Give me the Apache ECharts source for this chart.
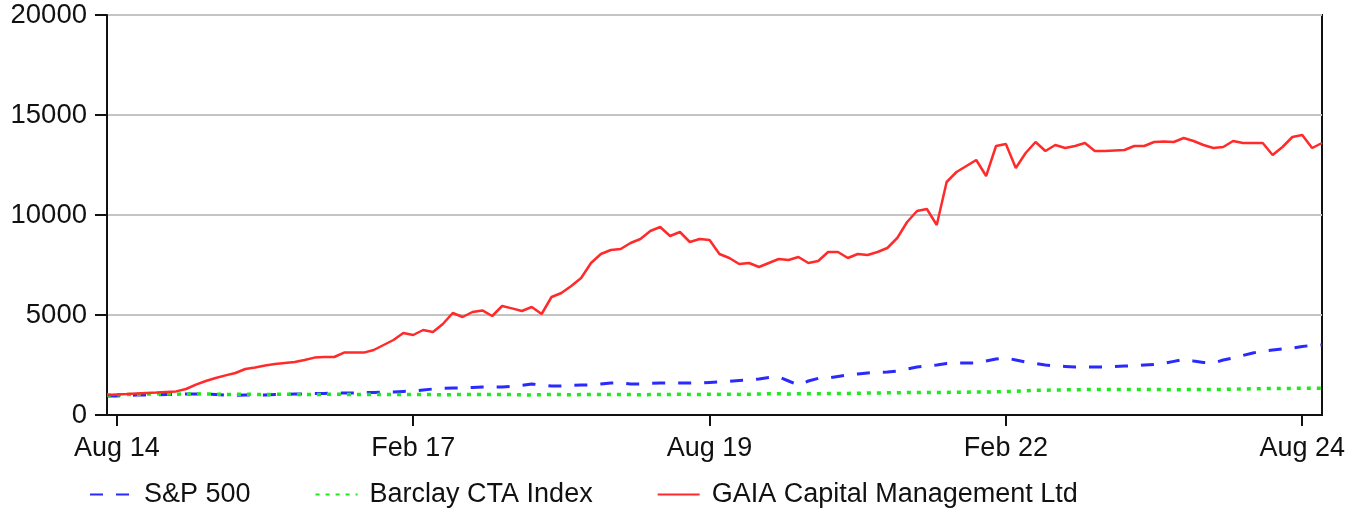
<!DOCTYPE html>
<html>
<head>
<meta charset="utf-8">
<script src="https://cdn.jsdelivr.net/npm/echarts@6/dist/echarts.min.js"></script>
<style>
  html, body { margin: 0; padding: 0; background: #fff; }
  #chart { width: 1357px; height: 510px; }
</style>
</head>
<body>
<div id="chart"></div>
<script>
// monthly points, Jul 14 .. Oct 24
const monthNames = ['Jan', 'Feb', 'Mar', 'Apr', 'May', 'Jun', 'Jul', 'Aug', 'Sep', 'Oct', 'Nov', 'Dec'];
const months = [];
for (let y = 2014, m = 6; months.length < 124; m++) {
  if (m === 12) { m = 0; y++; }
  months.push(monthNames[m] + ' ' + String(y).slice(2));
}
const shownLabels = ['Aug 14', 'Feb 17', 'Aug 19', 'Feb 22', 'Aug 24'];

const seriesNames = ['S&P 500', 'Barclay CTA Index', 'GAIA Capital Management Ltd'];

const sp500 = [
  950, 950, 980, 1000, 1000, 1000, 1030, 1030, 1050, 1050,
  1050, 1030, 1000, 980, 1000, 1000, 1000, 1030, 1030, 1050,
  1050, 1080, 1080, 1100, 1100, 1100, 1130, 1130, 1150, 1150,
  1180, 1200, 1250, 1300, 1330, 1350, 1350, 1380, 1400, 1400,
  1400, 1430, 1480, 1550, 1500, 1450, 1450, 1480, 1500, 1500,
  1550, 1600, 1600, 1550, 1550, 1580, 1600, 1600, 1600, 1600,
  1600, 1630, 1650, 1680, 1730, 1750, 1800, 1880, 1900, 1700,
  1500, 1700, 1830, 1850, 1930, 2000, 2050, 2100, 2130, 2150,
  2200, 2300, 2400, 2450, 2500, 2580, 2600, 2600, 2600, 2700,
  2800, 2850, 2750, 2650, 2580, 2500, 2450, 2430, 2400, 2400,
  2400, 2400, 2430, 2450, 2450, 2500, 2530, 2580, 2680, 2780,
  2700, 2630, 2600, 2750, 2850, 2980, 3100, 3200, 3250, 3300,
  3350, 3430, 3480, 3500
];

const barclay = [
  1000, 1010, 1020, 1040, 1050, 1060, 1050, 1040, 1050, 1060,
  1050, 1040, 1030, 1030, 1040, 1030, 1020, 1030, 1040, 1030,
  1030, 1020, 1030, 1040, 1030, 1020, 1020, 1030, 1030, 1020,
  1020, 1030, 1030, 1020, 1010, 1020, 1030, 1030, 1020, 1020,
  1030, 1020, 1010, 1000, 1020, 1030, 1020, 1010, 1020, 1030,
  1020, 1020, 1030, 1020, 1010, 1020, 1020, 1030, 1040, 1030,
  1030, 1040, 1030, 1040, 1030, 1040, 1050, 1060, 1060, 1050,
  1060, 1070, 1060, 1070, 1080, 1080, 1090, 1100, 1100, 1110,
  1110, 1120, 1120, 1130, 1130, 1130, 1140, 1140, 1150, 1150,
  1160, 1170, 1190, 1210, 1230, 1240, 1250, 1260, 1260, 1270,
  1270, 1280, 1280, 1280, 1270, 1280, 1270, 1270, 1260, 1270,
  1270, 1270, 1280, 1280, 1290, 1300, 1310, 1320, 1320, 1330,
  1330, 1340, 1340, 1340
];

const gaia = [
  1000, 1030, 1050, 1080, 1100, 1120, 1150, 1180, 1300, 1520,
  1700, 1850, 1980, 2100, 2300, 2380, 2480, 2550, 2600, 2650,
  2750, 2870, 2900, 2900, 3120, 3120, 3120, 3250, 3500, 3750,
  4100, 4000, 4250, 4150, 4550, 5100, 4900, 5150, 5230, 4950,
  5450, 5330, 5200, 5400, 5050, 5900, 6100, 6450, 6850, 7600,
  8050, 8250, 8300, 8600, 8800, 9200, 9400, 8950, 9150, 8650,
  8800, 8750, 8050, 7850, 7550, 7600, 7400, 7600, 7800, 7750,
  7900, 7600, 7700, 8150, 8150, 7850, 8050, 8000, 8150, 8350,
  8850, 9650, 10200, 10300, 9500, 11650, 12150, 12450, 12750, 11950,
  13450, 13550, 12350, 13100, 13650, 13200, 13500, 13350, 13450, 13600,
  13200, 13200, 13230, 13250, 13450, 13450, 13650, 13680, 13650, 13850,
  13700, 13500, 13350, 13400, 13700, 13600, 13600, 13600, 13000, 13400,
  13900, 14000, 13350, 13600
];

const font = '"Liberation Sans", Arial, sans-serif';
const chart = echarts.init(document.getElementById('chart'));

const isShown = (i, v) => shownLabels.indexOf(v) >= 0;

chart.setOption({
  animation: false,
  backgroundColor: '#fff',
  grid: {
    left: 107, right: 35, top: 15, bottom: 95,
    show: true, borderColor: '#111', borderWidth: 2
  },
  legend: {
    left: 84, top: 476,
    itemWidth: 42, itemHeight: 14, itemGap: 64,
    itemStyle: { opacity: 0 },
    textStyle: { fontFamily: font, fontSize: 27, color: '#111', padding: [0, 0, 0, 7] },
    data: seriesNames
  },
  xAxis: {
    type: 'category',
    data: months,
    boundaryGap: false,
    axisLine: { lineStyle: { color: '#111', width: 2 } },
    axisTick: { interval: isShown, length: 11, lineStyle: { color: '#111', width: 2 } },
    axisLabel: { interval: isShown, margin: 20, fontFamily: font, fontSize: 27, color: '#111' },
    splitLine: { show: false }
  },
  yAxis: {
    type: 'value',
    min: 0, max: 20000, interval: 5000,
    axisLine: { show: true, lineStyle: { color: '#111', width: 2 } },
    axisTick: { show: true, length: 12, lineStyle: { color: '#111', width: 2 } },
    axisLabel: { margin: 20, fontFamily: font, fontSize: 27.5, color: '#111', formatter: v => String(v) },
    splitLine: { lineStyle: { color: '#c4c4c4', width: 2 } }
  },
  series: [
    {
      name: seriesNames[0], type: 'line', data: sp500, symbol: 'none',
      lineStyle: { color: '#2a2aff', width: 3, type: [13, 13] },
      itemStyle: { color: '#2a2aff' }
    },
    {
      name: seriesNames[1], type: 'line', data: barclay, symbol: 'none',
      lineStyle: { color: '#1ee81e', width: 3.5, type: [4, 6] },
      itemStyle: { color: '#1ee81e' }
    },
    {
      name: seriesNames[2], type: 'line', data: gaia, symbol: 'none',
      lineStyle: { color: '#ff2a2a', width: 2.5 },
      itemStyle: { color: '#ff2a2a' }
    }
  ]
});
</script>
</body>
</html>
